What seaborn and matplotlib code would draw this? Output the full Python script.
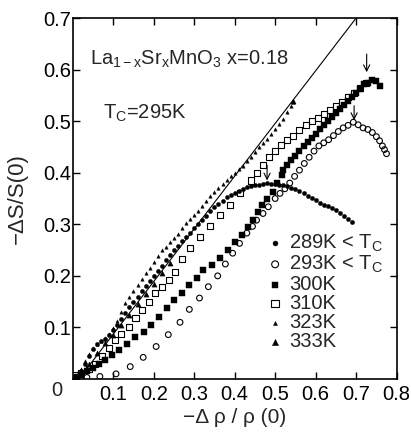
import numpy as np
import pandas as pd
import matplotlib
matplotlib.use("Agg")
import matplotlib.pyplot as plt
import seaborn as sns

# ---------------- data ----------------
x289 = [0.00, 0.01, 0.02, 0.03, 0.04, 0.05, 0.06, 0.07, 0.08, 0.09, 0.10, 0.11, 0.12, 0.13, 0.14,
        0.15, 0.16, 0.17, 0.18, 0.19, 0.20, 0.21, 0.22, 0.23, 0.24, 0.25, 0.26, 0.27, 0.28, 0.29,
        0.30, 0.31, 0.32, 0.33, 0.34, 0.35, 0.36, 0.37, 0.38, 0.39, 0.40, 0.41, 0.42, 0.43, 0.44,
        0.45, 0.46, 0.47, 0.48, 0.49, 0.50, 0.51, 0.52, 0.53, 0.54, 0.55, 0.56, 0.57, 0.58, 0.59,
        0.60, 0.61, 0.62, 0.63, 0.64, 0.65, 0.66, 0.67, 0.68, 0.69]
y289 = [0.0, 0.005, 0.015, 0.03, 0.045, 0.058, 0.068, 0.073, 0.078, 0.085, 0.095, 0.105, 0.117, 0.128, 0.14,
        0.15, 0.16, 0.17, 0.18, 0.19, 0.2, 0.21, 0.22, 0.23, 0.24, 0.25, 0.258, 0.267, 0.275, 0.284,
        0.292, 0.3, 0.308, 0.317, 0.325, 0.333, 0.34, 0.346, 0.352, 0.356, 0.36, 0.365, 0.369, 0.372, 0.374,
        0.376, 0.377, 0.378, 0.38, 0.379, 0.378, 0.377, 0.376, 0.374, 0.371, 0.368, 0.364, 0.36, 0.355, 0.351,
        0.347, 0.342, 0.338, 0.335, 0.331, 0.327, 0.322, 0.316, 0.31, 0.305]

x293 = [0.0, 0.01, 0.02, 0.035, 0.067, 0.107, 0.142, 0.174, 0.206, 0.236, 0.265, 0.288, 0.313, 0.335,
        0.358, 0.377, 0.395, 0.412, 0.43, 0.444, 0.454, 0.47, 0.483, 0.5, 0.512, 0.524, 0.536, 0.548,
        0.56, 0.572, 0.584, 0.596, 0.608, 0.62, 0.632, 0.644, 0.656, 0.668, 0.68, 0.693, 0.705, 0.717,
        0.729, 0.74, 0.75, 0.758, 0.765, 0.77, 0.775]
y293 = [0.0, 0.0, 0.002, 0.003, 0.005, 0.01, 0.024, 0.042, 0.063, 0.086, 0.11, 0.135, 0.157, 0.179,
        0.2, 0.223, 0.244, 0.263, 0.283, 0.296, 0.308, 0.321, 0.334, 0.35, 0.36, 0.369, 0.38, 0.393,
        0.405, 0.418, 0.43, 0.442, 0.452, 0.458, 0.464, 0.472, 0.48, 0.487, 0.492, 0.498, 0.493, 0.487,
        0.484, 0.478, 0.47, 0.462, 0.452, 0.445, 0.437]

x300 = [0.0, 0.01, 0.02, 0.035, 0.05, 0.065, 0.08, 0.097, 0.115, 0.134, 0.155, 0.175, 0.193, 0.214,
        0.233, 0.249, 0.27, 0.286, 0.306, 0.322, 0.343, 0.364, 0.384, 0.401, 0.417, 0.434, 0.446, 0.458,
        0.467, 0.479, 0.495, 0.505, 0.516, 0.52, 0.53, 0.54, 0.55, 0.56, 0.57, 0.58, 0.59, 0.60, 0.61,
        0.62, 0.63, 0.64, 0.65, 0.66, 0.67, 0.68, 0.69, 0.70, 0.71, 0.72, 0.73, 0.74, 0.75, 0.76]
y300 = [0.0, 0.003, 0.008, 0.015, 0.022, 0.03, 0.037, 0.047, 0.057, 0.068, 0.082, 0.092, 0.105, 0.121,
        0.137, 0.153, 0.166, 0.182, 0.195, 0.211, 0.221, 0.234, 0.25, 0.266, 0.279, 0.295, 0.308, 0.324,
        0.337, 0.35, 0.363, 0.38, 0.395, 0.405, 0.415, 0.424, 0.433, 0.442, 0.452, 0.46, 0.468, 0.476, 0.484,
        0.492, 0.5, 0.508, 0.516, 0.524, 0.532, 0.54, 0.547, 0.555, 0.562, 0.572, 0.575, 0.58, 0.578, 0.568]

x310 = [0.0, 0.006, 0.02, 0.04, 0.055, 0.072, 0.09, 0.105, 0.12, 0.138, 0.155, 0.171, 0.188, 0.204,
        0.22, 0.237, 0.253, 0.27, 0.29, 0.315, 0.34, 0.364, 0.389, 0.413, 0.44, 0.455, 0.47, 0.485,
        0.5, 0.515, 0.53, 0.545, 0.56, 0.575, 0.59, 0.605, 0.62, 0.635, 0.65, 0.665, 0.68, 0.695,
        0.71, 0.725]
y310 = [0.0, 0.008, 0.012, 0.02, 0.03, 0.045, 0.06, 0.076, 0.088, 0.101, 0.118, 0.134, 0.15, 0.166,
        0.178, 0.192, 0.208, 0.232, 0.254, 0.275, 0.296, 0.318, 0.338, 0.36, 0.385, 0.4, 0.415, 0.43,
        0.443, 0.453, 0.463, 0.472, 0.482, 0.492, 0.5, 0.507, 0.514, 0.522, 0.53, 0.537, 0.546, 0.555,
        0.565, 0.574]

x323 = [0.00, 0.01, 0.02, 0.03, 0.04, 0.05, 0.06, 0.07, 0.08, 0.09, 0.10, 0.11, 0.12, 0.13, 0.14,
        0.15, 0.16, 0.17, 0.18, 0.19, 0.20, 0.21, 0.22, 0.23, 0.24, 0.25, 0.26, 0.27, 0.28, 0.29,
        0.30, 0.31, 0.32, 0.33, 0.34, 0.35, 0.36, 0.37, 0.38, 0.39, 0.40, 0.41, 0.42, 0.43, 0.44,
        0.45, 0.46, 0.47, 0.48, 0.49, 0.50, 0.51, 0.52, 0.53, 0.54, 0.545]
y323 = [0.0, 0.008, 0.02, 0.035, 0.048, 0.06, 0.068, 0.074, 0.08, 0.087, 0.098, 0.113, 0.13, 0.148, 0.16,
        0.17, 0.182, 0.193, 0.205, 0.215, 0.226, 0.238, 0.25, 0.256, 0.266, 0.274, 0.282, 0.292, 0.302, 0.31,
        0.318, 0.326, 0.335, 0.345, 0.355, 0.363, 0.37, 0.378, 0.385, 0.393, 0.4, 0.407, 0.414, 0.422, 0.43,
        0.44, 0.449, 0.458, 0.466, 0.475, 0.484, 0.494, 0.505, 0.517, 0.53, 0.538]

x333 = [0.02, 0.04, 0.06, 0.08, 0.10, 0.12, 0.14, 0.16, 0.18, 0.20, 0.22, 0.24, 0.545]
y333 = [0.01, 0.03, 0.05, 0.07, 0.085, 0.105, 0.125, 0.145, 0.165, 0.185, 0.205, 0.225, 0.54]

fit_x = [0.015, 0.70]
fit_y = [0.0, 0.70]

arrow_x = [0.48, 0.695, 0.726]
arrow_top = [0.415, 0.53, 0.63]
arrow_tip = [0.385, 0.502, 0.595]

labels = [r"289K < T$_\mathrm{C}$", r"293K < T$_\mathrm{C}$", "300K", "310K", "323K", "333K"]
xticks = [0.1, 0.2, 0.3, 0.4, 0.5, 0.6, 0.7, 0.8]
yticks = [0.1, 0.2, 0.3, 0.4, 0.5, 0.6, 0.7]

# ---------------- style ----------------
sns.set_theme(style="ticks")
plt.rcParams["font.family"] = ["Liberation Sans", "DejaVu Sans"]
plt.rcParams["mathtext.fontset"] = "custom"
plt.rcParams["mathtext.rm"] = "Liberation Sans"
plt.rcParams["mathtext.it"] = "Liberation Sans:italic"
plt.rcParams["mathtext.default"] = "rm"

FS = 14.5

fig = plt.figure(figsize=(4.11, 4.33), dpi=100)
ax = fig.add_axes([0.177, 0.1247, 0.788, 0.8336])

series = [
    (x289, y289, "o", True, 9, 0.3),
    (x293, y293, "o", False, 17, 0.8),
    (x300, y300, "s", True, 13, 0.3),
    (x310, y310, "s", False, 19, 0.8),
    (x323, y323, "^", True, 6, 0.3),
    (x333, y333, "^", True, 14, 0.3),
]

for (xs, ys, m, filled, s, lw), lab in zip(series, labels):
    df = pd.DataFrame({"x": xs, "y": ys})
    if filled:
        sns.scatterplot(data=df, x="x", y="y", marker=m, s=s, color="black",
                        edgecolor="black", linewidth=lw, ax=ax, label=lab, legend=False)
    else:
        sns.scatterplot(data=df, x="x", y="y", marker=m, s=s, color="black",
                        facecolor="none", edgecolor="black", linewidth=lw, ax=ax,
                        label=lab, legend=False)

sns.lineplot(x=fit_x, y=fit_y, color="black", lw=0.8, ax=ax)

for xa, yt, yb in zip(arrow_x, arrow_top, arrow_tip):
    ax.annotate("", xy=(xa, yb), xytext=(xa, yt),
                arrowprops=dict(arrowstyle="->", lw=0.8, color="black",
                                shrinkA=0, shrinkB=0, mutation_scale=11))

ax.set_xlim(0, 0.8)
ax.set_ylim(0, 0.7)
ax.set_xticks(xticks)
ax.set_xticklabels([f"{v:.1f}" for v in xticks])
ax.set_yticks(yticks)
ax.set_yticklabels([f"{v:.1f}" for v in yticks])
ax.tick_params(direction="in", length=5, width=1, top=True, right=True,
               labelsize=FS, colors="black")
ax.tick_params(axis="x", pad=4.5)
ax.tick_params(axis="y", pad=1.0)
for sp in ax.spines.values():
    sp.set_linewidth(1.2)
    sp.set_color("black")
    sp.set_visible(True)

ax.text(-0.05, -0.031, "0", transform=ax.transAxes, ha="center", va="center", fontsize=FS)

ax.set_xlabel("−Δ ρ / ρ (0)", fontsize=15, labelpad=3)
ax.set_ylabel("−ΔS/S(0)", fontsize=16, labelpad=11)

ax.text(0.043, 0.619, r"La$_{\mathrm{1-x}}$Sr$_{\mathrm{x}}$MnO$_3$ x=0.18", fontsize=FS,
        ha="left", va="center")
ax.text(0.075, 0.516, r"T$_\mathrm{C}$=295K", fontsize=FS, ha="left", va="center")

leg = ax.legend(loc="lower right", bbox_to_anchor=(0.99, 0.05), frameon=False,
                fontsize=FS, handlelength=0.6, handletextpad=0.4, labelspacing=0.0,
                borderpad=0, markerscale=1.2)

ax.set_facecolor("white")
fig.patch.set_facecolor("white")
fig.savefig("out.png", dpi=100)
